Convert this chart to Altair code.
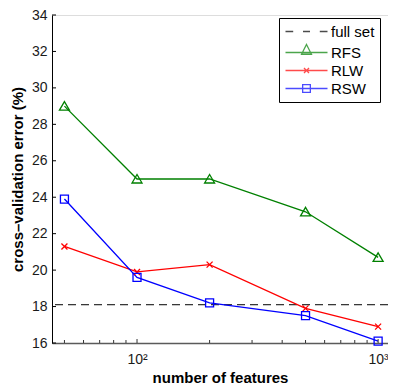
import altair as alt
import pandas as pd

# ---- data ----
n_features = [50, 100, 200, 500, 1000]
rfs = [29.0, 25.0, 25.0, 23.2, 20.7]
rlw = [21.3, 19.9, 20.3, 17.9, 16.9]
rsw = [23.9, 19.6, 18.2, 17.5, 16.1]
full_set = 18.1

series_names = ["RFS", "RLW", "RSW"]
legend_names = ["full set", "RFS", "RLW", "RSW"]
legend_colors = ["#000000", "#008000", "#FF0000", "#0000FF"]

y_ticks = [16, 18, 20, 22, 24, 26, 28, 30, 32, 34]
x_major_ticks = [100, 1000]
x_major_labels = ["10\u00b2", "10\u00b3"]
x_minor_ticks = [50, 60, 70, 80, 90, 200, 300, 400, 500, 600, 700, 800, 900]

FONT = "Liberation Sans"
W, H = 336, 328
X_DOMAIN = [44.4, 1099]
Y_DOMAIN = [16, 34]

rows = []
for name, vals in zip(series_names, [rfs, rlw, rsw]):
    for n, v in zip(n_features, vals):
        rows.append({"n": n, "err": v, "series": name})
df = pd.DataFrame(rows)

# marker shapes (custom SVG paths in symbol units)
plot_shapes = [
    "M0,-0.9L1,0.8L-1,0.8Z",
    "M-0.6,-0.6L0.6,0.6M-0.6,0.6L0.6,-0.6",
    "M-0.8,-0.8H0.8V0.8H-0.8Z",
]
# legend symbols: line segment + marker
legend_shapes = [
    "M-1,0H0.1M1.5,0H2.5M3.9,0H5",
    "M-1,0H5M2,-1.15L2.71,0.25L1.29,0.25Z",
    "M-1,0H5M1.64,-0.36L2.36,0.36M1.64,0.36L2.36,-0.36",
    "M-1,0H5M1.45,-0.55H2.55V0.55H1.45Z",
]

x_scale = alt.Scale(type="log", domain=X_DOMAIN, nice=False)
y_scale = alt.Scale(domain=Y_DOMAIN, nice=False, zero=False)

label_expr = " : ".join(
    [f"datum.value == {v} ? '{l}'" for v, l in zip(x_major_ticks, x_major_labels)]
) + " : ''"

x_axis = alt.Axis(
    values=x_major_ticks,
    labelExpr=label_expr,
    ticks=False,
    grid=False,
    labelOverlap=False,
    labelFlush=False,
    labelBound=False,
    domainColor="#5a5a5a",
    domainWidth=1.6,
    labelFont=FONT,
    labelFontSize=14,
    labelColor="#1a1a1a",
    labelPadding=9,
    title="number of features",
    titleFont=FONT,
    titleFontSize=15,
    titleFontWeight="bold",
    titleColor="#000000",
    titlePadding=4,
)
y_axis = alt.Axis(
    values=y_ticks,
    ticks=False,
    grid=False,
    labelOverlap=False,
    labelFlush=False,
    labelBound=False,
    domainColor="#000000",
    domainWidth=1,
    labelFont=FONT,
    labelFontSize=14,
    labelColor="#1a1a1a",
    labelPadding=5,
    title="cross\u2013validation error (%)",
    titleFont=FONT,
    titleFontSize=15,
    titleFontWeight="bold",
    titleColor="#000000",
    titlePadding=6,
)

X = lambda f: alt.X(f, scale=x_scale, axis=x_axis)
Y = lambda f: alt.Y(f, scale=y_scale, axis=y_axis)

base = alt.Chart(df)

full_rule = alt.Chart(pd.DataFrame({"v": [full_set]})).mark_rule(
    color="#000000", strokeWidth=1, strokeDash=[8, 5]
).encode(y=Y("v:Q"))

lines = base.mark_line(strokeWidth=1.3).encode(
    x=X("n:Q"),
    y=Y("err:Q"),
    color=alt.Color("series:N", scale=alt.Scale(domain=legend_names, range=legend_colors), legend=None),
    detail="series:N",
)

points = base.mark_point(filled=False, size=100, strokeWidth=1.3, opacity=1).encode(
    x=X("n:Q"),
    y=Y("err:Q"),
    color=alt.Color("series:N", scale=alt.Scale(domain=legend_names, range=legend_colors), legend=None),
    shape=alt.Shape("series:N", scale=alt.Scale(domain=series_names, range=plot_shapes), legend=None),
)

ytick_rules = alt.Chart(pd.DataFrame({"t": y_ticks})).mark_rule(color="#000000", strokeWidth=1).encode(
    y=Y("t:Q"), x=alt.value(0), x2=alt.value(4)
)
xmaj_rules = alt.Chart(pd.DataFrame({"t": x_major_ticks})).mark_rule(color="#333333", strokeWidth=1).encode(
    x=X("t:Q"), y=alt.value(H), y2=alt.value(H - 4)
)
xmin_rules = alt.Chart(pd.DataFrame({"t": x_minor_ticks})).mark_rule(color="#333333", strokeWidth=1).encode(
    x=X("t:Q"), y=alt.value(H), y2=alt.value(H - 3)
)

legend_def = alt.Legend(
    title=None,
    orient="none",
    legendX=227,
    legendY=3,
    padding=5.5,
    strokeColor="#000000",
    fillColor="#ffffff",
    symbolSize=196,
    symbolStrokeWidth=1.3,
    labelFont=FONT,
    labelFontSize=15,
    labelColor="#000000",
    labelOffset=30.5,
    rowPadding=2,
    cornerRadius=0,
)

legend_layer = alt.Chart(pd.DataFrame({"series": legend_names})).transform_filter(
    "false"
).mark_point(filled=False).encode(
    color=alt.Color("series:N", scale=alt.Scale(domain=legend_names, range=legend_colors), legend=legend_def),
    shape=alt.Shape("series:N", scale=alt.Scale(domain=legend_names, range=legend_shapes), legend=legend_def),
)

chart = alt.layer(
    full_rule, lines, points, ytick_rules, xmaj_rules, xmin_rules, legend_layer
).resolve_scale(
    color="independent", shape="independent"
).properties(
    width=W,
    height=H,
    autosize=alt.AutoSizeParams(type="none"),
    padding={"left": 44, "top": 7, "right": 0, "bottom": 47},
).configure_view(stroke=None).configure(background="white")

chart.save("out.html", embed_options={"renderer": "svg", "actions": False})
